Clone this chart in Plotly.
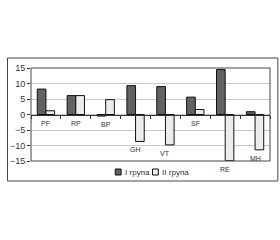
import plotly.graph_objects as go

categories = ["PF", "RP", "BP", "GH", "VT", "SF", "RE", "MH"]
group1 = [8.2, 6.1, -0.5, 9.3, 9.0, 5.6, 14.5, 0.9]
group2 = [1.2, 6.1, 4.8, -8.7, -9.8, 1.6, -14.9, -11.4]
series_names = ["I група", "II група"]
series_colors = ["#626262", "#ececec"]
y_ticks = [15, 10, 5, 0, -5, -10, -15]

L, T, B, W, H = 26, 68, 79, 280, 240
PW, PH = W - L - 10, H - T - B


def px(x):
    return (x - L) / PW


def py(y):
    return (H - B - y) / PH


fig = go.Figure()
for name, vals, col in zip(series_names, [group1, group2], series_colors):
    fig.add_trace(go.Bar(x=categories, y=vals, name=name, showlegend=False,
                         marker=dict(color=col, line=dict(color="#111111", width=1))))

for c, a, b in zip(categories, group1, group2):
    low = min(0, a, b)
    fig.add_annotation(x=c, y=low, text=c, showarrow=False, yanchor="top",
                       yshift=-3, font=dict(size=7, color="#333333"))

shapes = [
    dict(type="rect", xref="paper", yref="paper", x0=0, x1=1, y0=0, y1=1,
         line=dict(color="#444444", width=1)),
    dict(type="rect", xref="paper", yref="paper",
         x0=px(2), x1=px(278), y0=py(181), y1=py(58),
         line=dict(color="#444444", width=1)),
]
# manual legend
leg_x = [112, 150]
for x0, name, col in zip(leg_x, series_names, series_colors):
    shapes.append(dict(type="rect", xref="paper", yref="paper",
                       x0=px(x0), x1=px(x0 + 6), y0=py(175), y1=py(169),
                       fillcolor=col, line=dict(color="#111111", width=1)))
    fig.add_annotation(xref="paper", yref="paper", x=px(x0 + 8), y=py(172),
                       text=name, showarrow=False, xanchor="left", yanchor="middle",
                       font=dict(size=8, color="#333333"))

fig.update_layout(
    width=W, height=H,
    margin=dict(l=L, r=10, t=T, b=B),
    paper_bgcolor="white", plot_bgcolor="white",
    barmode="group", bargap=0.42, bargroupgap=0,
    font=dict(family="Liberation Sans, Arial", size=9, color="#333333"),
    showlegend=False,
    xaxis=dict(showticklabels=False, anchor="free", position=0.5,
               showline=True, linecolor="#333333", linewidth=1,
               ticks="outside", tickson="boundaries", ticklen=3,
               tickcolor="#333333", showgrid=False, zeroline=False),
    yaxis=dict(range=[-15, 15], tickvals=y_ticks,
               ticktext=[str(v).replace("-", "\u2212") for v in y_ticks],
               showgrid=True, gridcolor="#c8c8c8", gridwidth=1,
               zeroline=False, ticks="outside", ticklen=3, tickcolor="#333333",
               showline=False, tickfont=dict(size=9)),
    shapes=shapes,
)

fig.write_html("out.html")
